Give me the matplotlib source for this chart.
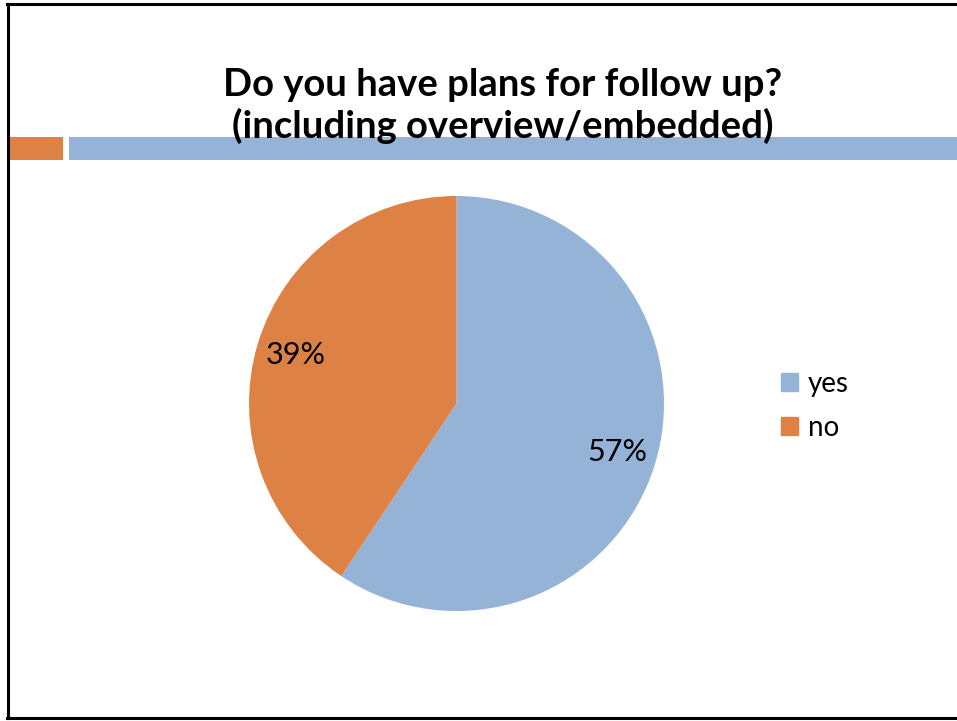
import matplotlib.pyplot as plt
from matplotlib.patches import Rectangle, Patch
from matplotlib.lines import Line2D

# survey answers
categories = ["yes", "no"]
values = [57, 39]
colors = ["#95B3D7", "#DE8145"]
title = "Do you have plans for follow up?\n(including overview/embedded)"

W, H = 957, 721
fig = plt.figure(figsize=(W / 100, H / 100), dpi=100)
fnt = "Lato"

# slide decoration: frame and the two header bars
fig.add_artist(Line2D([8 / W, 8 / W], [1 - 3.5 / H, 1 - 718 / H], color="black", lw=2.2))
fig.add_artist(Line2D([7 / W, 1], [1 - 3.5 / H, 1 - 3.5 / H], color="black", lw=2.2))
fig.add_artist(Line2D([7 / W, 1], [1 - 718 / H, 1 - 718 / H], color="black", lw=2.2))
fig.add_artist(Rectangle((9 / W, 1 - 160 / H), 54 / W, 23 / H, transform=fig.transFigure,
                         color=colors[1], lw=0))
fig.add_artist(Rectangle((69 / W, 1 - 160 / H), (W - 69) / W, 23 / H, transform=fig.transFigure,
                         color=colors[0], lw=0))

fig.text(503 / W, 1 - 106 / H, title, ha="center", va="center", fontsize=27.5,
         fontweight="bold", family=fnt, linespacing=1.18)

# pie
cx, cy, r = 456.5, 403.5, 207.5
ax = fig.add_axes([(cx - r) / W, (H - cy - r) / H, 2 * r / W, 2 * r / H])
total = sum(values)
wedges, texts, autotexts = ax.pie(values, colors=colors, startangle=90, counterclock=False,
                                  autopct=lambda p: f"{p * total / 100:.0f}%", pctdistance=0.81,
                                  wedgeprops=dict(lw=0))
for t in autotexts:
    t.set_fontsize(22)
    t.set_family(fnt)
ax.set_xlim(-1, 1)
ax.set_ylim(-1, 1)
ax.set_aspect("equal")
ax.axis("off")

handles = [Patch(color=c, label=l) for c, l in zip(colors, categories)]
fig.legend(handles=handles, loc="center left", bbox_to_anchor=(781 / W, 1 - 406 / H),
           frameon=False, handlelength=0.62, handleheight=0.62, borderpad=0, borderaxespad=0,
           handletextpad=0.35, labelspacing=0.65, prop={"family": fnt, "size": 20})

fig.savefig("out.png", dpi=100)
